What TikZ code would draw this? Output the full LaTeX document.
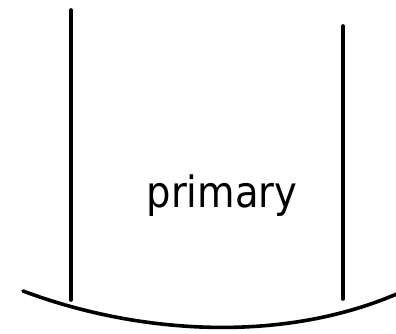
\documentclass[tikz,border=0pt]{standalone}
\usepackage{fontspec}
\setmainfont{DejaVu Sans}
\begin{document}
\begin{tikzpicture}[x=1pt,y=-1pt,
  stroke/.style={line width=3.6pt,line cap=round,black},
  lbl/.style={font=\fontsize{38.5}{42}\selectfont,inner sep=0pt,anchor=base}]
\useasboundingbox (0,0) rectangle (396,333);
\clip (0,0) rectangle (396,333);
\coordinate (lt) at (71,10);
\coordinate (lb) at (71,300);
\coordinate (rt) at (343,26);
\coordinate (rb) at (343,299);
\coordinate (cl) at (23,291);
\coordinate (cr) at (410,288);
\draw[stroke] (lt) -- (lb);
\draw[stroke] (rt) -- (rb);
\draw[stroke] (cl) .. controls (140,335) and (290,345) .. (cr);
\node[lbl] (primary) at (222,207) {\scalebox{1}[1.12]{primary}};
\end{tikzpicture}
\end{document}
